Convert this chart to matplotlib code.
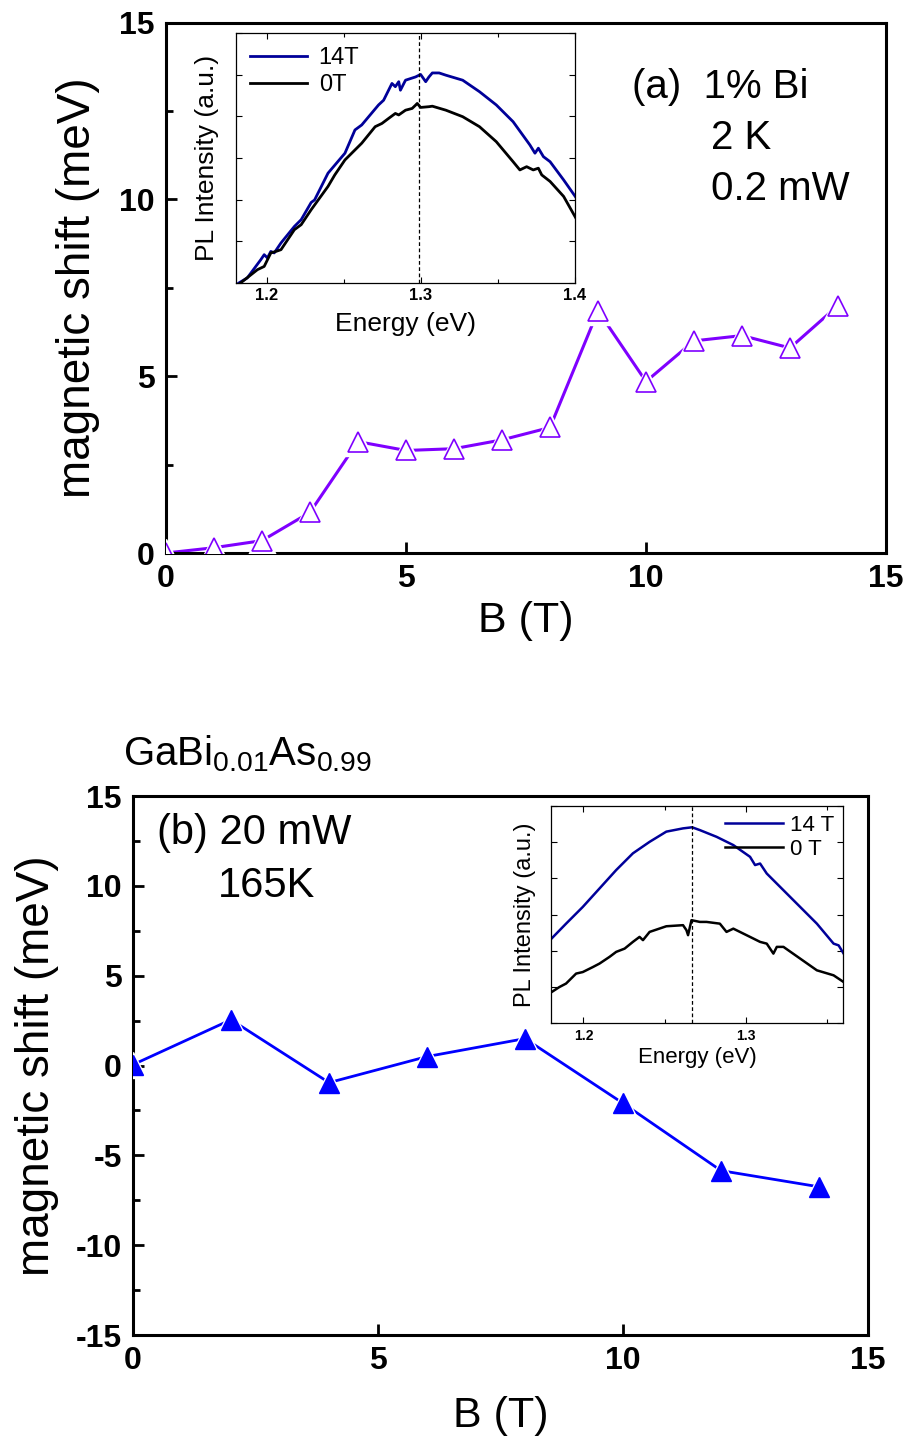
import numpy as np
from matplotlib import pyplot as plt
from matplotlib.ticker import MultipleLocator

plt.rcParams['font.family'] = ['Liberation Sans', 'DejaVu Sans']
plt.rcParams['mathtext.fontset'] = 'custom'
plt.rcParams['mathtext.rm'] = 'Liberation Sans'
plt.rcParams['mathtext.default'] = 'regular'
plt.rcParams['axes.unicode_minus'] = False

# panel (a): 1% Bi, 2 K, 0.2 mW
B_a = [0, 1, 2, 3, 4, 5, 6, 7, 8, 9, 10, 11, 12, 13, 14]
shift_a = [0.0, 0.15, 0.35, 1.15, 3.15, 2.9, 2.95, 3.2, 3.55, 6.85, 4.85, 6.0, 6.15, 5.8, 7.0]

# panel (b): 20 mW, 165 K
B_b = [0, 2, 4, 6, 8, 10, 12, 14]
shift_b = [0.05, 2.55, -0.95, 0.5, 1.5, -2.1, -5.85, -6.75]

# inset (a) spectra, normalised intensity
Ea_14 = [1.1819, 1.1873, 1.1961, 1.1983, 1.2004, 1.2026, 1.2048, 1.2092, 1.2179, 1.2223,
         1.2288, 1.2310, 1.2397, 1.2507, 1.2572, 1.2616, 1.2725, 1.2758, 1.2812, 1.2834,
         1.2856, 1.2867, 1.2900, 1.2965, 1.2998, 1.3031, 1.3052, 1.3074, 1.3118, 1.3162,
         1.3271, 1.3380, 1.3489, 1.3598, 1.3707, 1.3740, 1.3762, 1.3795, 1.3838, 1.3926, 1.4024]
Ia_14 = [0.0, 0.020, 0.093, 0.113, 0.100, 0.126, 0.120, 0.160, 0.226, 0.253,
         0.322, 0.332, 0.439, 0.519, 0.612, 0.632, 0.712, 0.731, 0.798, 0.785,
         0.805, 0.771, 0.811, 0.824, 0.834, 0.805, 0.824, 0.840, 0.840, 0.831,
         0.811, 0.765, 0.712, 0.645, 0.552, 0.519, 0.539, 0.505, 0.485, 0.412, 0.326]
Ea_0 = [1.1830, 1.1939, 1.1983, 1.2026, 1.2059, 1.2092, 1.2179, 1.2223, 1.2288, 1.2397,
        1.2441, 1.2507, 1.2616, 1.2703, 1.2747, 1.2790, 1.2834, 1.2856, 1.2900, 1.2943,
        1.2965, 1.2976, 1.2998, 1.3052, 1.3074, 1.3162, 1.3271, 1.3380, 1.3489, 1.3598,
        1.3642, 1.3686, 1.3729, 1.3762, 1.3784, 1.3838, 1.3926, 1.4024]
Ia_0 = [0.0, 0.053, 0.066, 0.120, 0.126, 0.133, 0.213, 0.233, 0.293, 0.386,
        0.432, 0.492, 0.559, 0.625, 0.638, 0.658, 0.678, 0.672, 0.691, 0.698,
        0.711, 0.718, 0.702, 0.705, 0.707, 0.691, 0.665, 0.625, 0.565, 0.485,
        0.452, 0.465, 0.452, 0.459, 0.432, 0.406, 0.346, 0.239]

# inset (b) spectra, normalised intensity
Eb_14 = [1.1794, 1.1893, 1.1996, 1.2099, 1.2202, 1.2305, 1.2408, 1.2511, 1.2614, 1.2670,
         1.2718, 1.2821, 1.2924, 1.3027, 1.3058, 1.3089, 1.3130, 1.3233, 1.3336, 1.3439,
         1.3542, 1.3573, 1.3604]
Ib_14 = [0.382, 0.458, 0.535, 0.620, 0.705, 0.782, 0.835, 0.882, 0.897, 0.902,
         0.889, 0.858, 0.820, 0.766, 0.728, 0.735, 0.689, 0.612, 0.535, 0.458,
         0.366, 0.358, 0.320]
Eb_0 = [1.1794, 1.1852, 1.1893, 1.1955, 1.1996, 1.2058, 1.2099, 1.2161, 1.2202, 1.2254,
        1.2305, 1.2346, 1.2367, 1.2408, 1.2511, 1.2614, 1.2635, 1.2645, 1.2666, 1.2718,
        1.2759, 1.2841, 1.2882, 1.2924, 1.3027, 1.3089, 1.3130, 1.3171, 1.3192, 1.3233,
        1.3336, 1.3439, 1.3542, 1.3604]
Ib_0 = [0.138, 0.166, 0.182, 0.228, 0.235, 0.258, 0.274, 0.305, 0.328, 0.343,
        0.374, 0.397, 0.382, 0.420, 0.446, 0.451, 0.428, 0.405, 0.474, 0.466,
        0.466, 0.458, 0.420, 0.435, 0.397, 0.374, 0.366, 0.320, 0.351, 0.351,
        0.297, 0.243, 0.220, 0.189]

peak_a = 1.299
peak_b = 1.267

purple = '#7f00ff'
navy = '#000099'

fig = plt.figure(figsize=(9.08, 14.45), dpi=100)


def style_main(ax):
    for s in ax.spines.values():
        s.set_linewidth(2.2)
    ax.tick_params(direction='in', width=2, length=8, labelsize=23, pad=8,
                   top=False, right=False)
    ax.tick_params(which='minor', direction='in', width=2, length=5,
                   top=False, right=False)
    for lab in ax.get_xticklabels() + ax.get_yticklabels():
        lab.set_fontweight('bold')


def style_inset(ax, lsize):
    for s in ax.spines.values():
        s.set_linewidth(0.9)
    ax.tick_params(direction='in', width=0.8, length=4, labelsize=lsize, pad=4,
                   top=True, right=True)
    ax.tick_params(which='minor', direction='in', width=0.8, length=3,
                   top=True, right=True)
    ax.set_yticklabels([])
    for lab in ax.get_xticklabels():
        lab.set_fontweight('bold')


# ---------- panel (a)
ax1 = fig.add_axes([0.1828, 0.6173, 0.7930, 0.3670])
ax1.plot(B_a, shift_a, '-', color=purple, lw=2.2, zorder=2)
ax1.plot(B_a, shift_a, '^', color='white', ms=20, zorder=3)
ax1.plot(B_a, shift_a, '^', mfc='white', mec=purple, mew=1.2, ms=14, ls='none', zorder=4)
ax1.set_xlim(0, 15)
ax1.set_ylim(0, 15)
ax1.xaxis.set_major_locator(MultipleLocator(5))
ax1.yaxis.set_major_locator(MultipleLocator(5))
ax1.yaxis.set_minor_locator(MultipleLocator(2.5))
style_main(ax1)
ax1.set_xlabel('B (T)', fontsize=31, labelpad=5)
ax1.set_ylabel('magnetic shift (meV)', fontsize=33, labelpad=14)
ax1.text(0.647, 0.879, '(a)  1% Bi', transform=ax1.transAxes, fontsize=29, va='center')
ax1.text(0.757, 0.783, '2 K', transform=ax1.transAxes, fontsize=29, va='center')
ax1.text(0.757, 0.687, '0.2 mW', transform=ax1.transAxes, fontsize=29, va='center')

ins1 = fig.add_axes([0.2599, 0.8042, 0.3734, 0.1730])
ins1.plot(Ea_14, Ia_14, color=navy, lw=2, label='14T')
ins1.plot(Ea_0, Ia_0, color='black', lw=2, label='0T')
ins1.axvline(peak_a, color='black', lw=0.9, ls=(0, (3, 2)))
ins1.set_xlim(1.18, 1.40)
ins1.set_ylim(0, 1)
ins1.xaxis.set_major_locator(MultipleLocator(0.1))
ins1.xaxis.set_minor_locator(MultipleLocator(0.05))
ins1.set_yticks(np.linspace(0, 1, 7))
style_inset(ins1, 12)
ins1.set_xlabel('Energy (eV)', fontsize=19, labelpad=6)
ins1.set_ylabel('PL Intensity (a.u.)', fontsize=19, labelpad=8)
ins1.legend(loc='upper left', frameon=False, fontsize=17, handlelength=2.4,
            borderaxespad=0.2, labelspacing=0.2, handletextpad=0.5)

# ---------- panel (b)
ax2 = fig.add_axes([0.1465, 0.0761, 0.8095, 0.3730])
ax2.plot(B_b, shift_b, '-', color='#0000ff', lw=2, zorder=2)
ax2.plot(B_b, shift_b, '^', color='white', ms=19, zorder=3)
ax2.plot(B_b, shift_b, '^', color='#0000ff', ms=14, ls='none', zorder=4)
ax2.set_xlim(0, 15)
ax2.set_ylim(-15, 15)
ax2.xaxis.set_major_locator(MultipleLocator(5))
ax2.yaxis.set_major_locator(MultipleLocator(5))
ax2.yaxis.set_minor_locator(MultipleLocator(2.5))
style_main(ax2)
ax2.set_xlabel('B (T)', fontsize=31, labelpad=14)
ax2.set_ylabel('magnetic shift (meV)', fontsize=33, labelpad=12)
ax2.text(0.033, 0.931, '(b) 20 mW', transform=ax2.transAxes, fontsize=30, va='center')
ax2.text(0.116, 0.833, '165K', transform=ax2.transAxes, fontsize=30, va='center')
fig.text(0.135, 0.4706, r'GaBi$_{0.01}$As$_{0.99}$', fontsize=29, va='baseline')

ins2 = fig.add_axes([0.6068, 0.2920, 0.3216, 0.1502])
ins2.plot(Eb_14, Ib_14, color=navy, lw=1.8, label='14 T')
ins2.plot(Eb_0, Ib_0, color='black', lw=1.8, label='0 T')
ins2.axvline(peak_b, color='black', lw=0.9, ls=(0, (3, 2)))
ins2.set_xlim(1.18, 1.36)
ins2.set_ylim(0, 1)
ins2.xaxis.set_major_locator(MultipleLocator(0.1))
ins2.xaxis.set_minor_locator(MultipleLocator(0.05))
ins2.set_yticks(np.linspace(0, 1, 7))
style_inset(ins2, 10)
ins2.set_xlabel('Energy (eV)', fontsize=16, labelpad=3)
ins2.set_ylabel('PL Intensity (a.u.)', fontsize=17, labelpad=7)
ins2.legend(loc='upper right', frameon=False, fontsize=16, handlelength=2.6,
            borderaxespad=0.0, labelspacing=0.15, handletextpad=0.3)

fig.savefig('out.png', dpi=100)
